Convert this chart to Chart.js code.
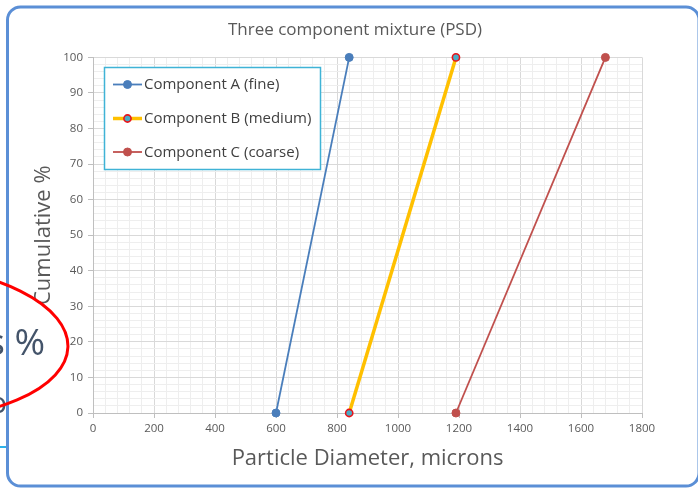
<!DOCTYPE html>
<html>
<head>
<meta charset="utf-8">
<script src="https://cdn.jsdelivr.net/npm/chart.js@4/dist/chart.umd.min.js"></script>
<style>
  html, body { margin: 0; padding: 0; background: #ffffff; }
  #wrap { width: 698px; height: 489px; }
</style>
</head>
<body>
<div id="wrap"><canvas id="psd" width="698" height="489"></canvas></div>
<script>
// Particle size distribution of the three components
const chartTitle = 'Three component mixture (PSD)';
const xAxisTitle = 'Particle Diameter, microns';
const yAxisTitle = 'Cumulative %';

const seriesNames = ['Component A (fine)', 'Component B (medium)', 'Component C (coarse)'];
const diameterA = [600, 840];
const cumulativeA = [0, 100];
const diameterB = [840, 1190];
const cumulativeB = [0, 100];
const diameterC = [1190, 1680];
const cumulativeC = [0, 100];

// Labelled (major) ticks; minor grid subdivides each major step into five
const xTickLabels = [0, 200, 400, 600, 800, 1000, 1200, 1400, 1600, 1800];
const yTickLabels = [0, 10, 20, 30, 40, 50, 60, 70, 80, 90, 100];
const minorDivisions = 5;

const FONT = '"Open Sans", "DejaVu Sans", sans-serif';
const GRID_MAJOR = '#d9d9d9';
const GRID_MINOR = '#eeeeee';
const AXIS_LINE = '#bfbfbf';
const TEXT = '#595959';

function gridValues(labels) {
  const out = [];
  for (let i = 0; i < labels.length - 1; i++) {
    const step = (labels[i + 1] - labels[i]) / minorDivisions;
    for (let k = 0; k < minorDivisions; k++) out.push(labels[i] + k * step);
  }
  out.push(labels[labels.length - 1]);
  return out;
}
const xGrid = gridValues(xTickLabels);
const yGrid = gridValues(yTickLabels);

function pairs(xs, ys) { return xs.map((x, i) => ({ x: x, y: ys[i] })); }

const datasets = [
  { label: seriesNames[0], data: pairs(diameterA, cumulativeA),
    borderColor: '#4a7ebb', backgroundColor: '#4a7ebb', borderWidth: 1.8,
    pointRadius: 4, pointBackgroundColor: '#4a7ebb', pointBorderColor: '#4a7ebb', pointBorderWidth: 1 },
  { label: seriesNames[1], data: pairs(diameterB, cumulativeB),
    borderColor: '#ffc000', backgroundColor: '#ffc000', borderWidth: 3.5,
    pointRadius: 3.6, pointBackgroundColor: '#4bacc6', pointBorderColor: '#e8141a', pointBorderWidth: 1.6 },
  { label: seriesNames[2], data: pairs(diameterC, cumulativeC),
    borderColor: '#c0504d', backgroundColor: '#c0504d', borderWidth: 1.8,
    pointRadius: 4, pointBackgroundColor: '#c0504d', pointBorderColor: '#c0504d', pointBorderWidth: 1 }
].map(d => Object.assign(d, { showLine: true, clip: false, tension: 0 }));

// White page background
const background = {
  id: 'background',
  beforeDraw(chart) {
    const c = chart.ctx;
    c.save();
    c.fillStyle = '#ffffff';
    c.fillRect(0, 0, chart.width, chart.height);
    c.restore();
  }
};

// Boxed legend inside the plot area
const boxedLegend = {
  id: 'boxedLegend',
  afterDatasetsDraw(chart) {
    const c = chart.ctx;
    const box = { x: 104.5, y: 67.5, w: 216, h: 102 };
    c.save();
    c.fillStyle = '#ffffff';
    c.fillRect(box.x, box.y, box.w, box.h);
    c.strokeStyle = '#3fb3d6';
    c.lineWidth = 1.5;
    c.strokeRect(box.x, box.y, box.w, box.h);
    const rows = [84.5, 118.5, 152];
    chart.data.datasets.forEach((ds, i) => {
      const y = rows[i];
      c.beginPath();
      c.moveTo(113, y);
      c.lineTo(142, y);
      c.strokeStyle = ds.borderColor;
      c.lineWidth = ds.borderWidth;
      c.stroke();
      c.beginPath();
      c.arc(127.5, y, ds.pointRadius, 0, Math.PI * 2);
      c.fillStyle = ds.pointBackgroundColor;
      c.fill();
      c.lineWidth = ds.pointBorderWidth;
      c.strokeStyle = ds.pointBorderColor;
      c.stroke();
      c.fillStyle = '#404040';
      c.font = '15px ' + FONT;
      c.textAlign = 'left';
      c.textBaseline = 'middle';
      c.fillText(ds.label, 144, y + 0.5);
    });
    c.restore();
  }
};

// Rounded blue frame and the slide content showing at its left edge
const frame = {
  id: 'frame',
  afterDraw(chart) {
    const c = chart.ctx;
    c.save();
    // slide text partly hidden behind the frame
    c.fillStyle = '#44546a';
    c.font = '37px ' + FONT;
    c.textAlign = 'right';
    c.textBaseline = 'alphabetic';
    c.fillText('s %', 45, 355);
    c.font = '30px ' + FONT;
    c.fillText('o', 7, 413);
    // cyan rule
    c.beginPath();
    c.moveTo(0, 447);
    c.lineTo(7, 447);
    c.strokeStyle = '#2cb2ea';
    c.lineWidth = 2;
    c.stroke();
    // frame
    c.beginPath();
    c.roundRect(7.5, 7, 691.5, 479, 13);
    c.strokeStyle = '#5b8fd6';
    c.lineWidth = 3;
    c.stroke();
    // red highlight ellipse
    c.beginPath();
    c.ellipse(-100, 342, 168, 77, 0.03, 0, Math.PI * 2);
    c.strokeStyle = '#ff0000';
    c.lineWidth = 3;
    c.stroke();
    c.restore();
  }
};

new Chart(document.getElementById('psd'), {
  type: 'scatter',
  data: { datasets: datasets },
  plugins: [background, boxedLegend, frame],
  options: {
    responsive: false,
    animation: false,
    devicePixelRatio: 1,
    layout: { padding: { top: 0, left: 12, right: 0, bottom: 0 } },
    plugins: {
      legend: { display: false },
      tooltip: { enabled: false },
      title: {
        display: true,
        text: chartTitle,
        color: TEXT,
        font: { family: FONT, size: 17, weight: 'normal' },
        padding: { top: 20, bottom: 17 }
      }
    },
    scales: {
      x: {
        type: 'linear',
        min: 0, max: 1800,
        afterBuildTicks(scale) { scale.ticks = xGrid.map(v => ({ value: v })); },
        afterFit(scale) { scale.height = 76; },
        ticks: {
          autoSkip: false, maxRotation: 0, padding: 4,
          color: TEXT, font: { family: FONT, size: 11.5 },
          callback: v => (xTickLabels.includes(v) ? String(v) : '')
        },
        grid: {
          color: ctx => (ctx.tick && xTickLabels.includes(ctx.tick.value) ? GRID_MAJOR : GRID_MINOR),
          tickColor: ctx => (ctx.tick && xTickLabels.includes(ctx.tick.value) ? AXIS_LINE : 'rgba(0,0,0,0)'),
          tickLength: 5,
          lineWidth: 1
        },
        border: { color: AXIS_LINE, width: 1 },
        title: {
          display: true, text: xAxisTitle, color: TEXT,
          font: { family: FONT, size: 22 },
          padding: { top: 0, bottom: 17 }
        }
      },
      y: {
        type: 'linear',
        min: 0, max: 100,
        afterBuildTicks(scale) { scale.ticks = yGrid.map(v => ({ value: v })); },
        afterFit(scale) { scale.width = 81; },
        ticks: {
          autoSkip: false, padding: 5,
          color: TEXT, font: { family: FONT, size: 11.5 },
          callback: v => (yTickLabels.includes(v) ? String(v) : '')
        },
        grid: {
          color: ctx => (ctx.tick && yTickLabels.includes(ctx.tick.value) ? GRID_MAJOR : GRID_MINOR),
          tickColor: ctx => (ctx.tick && yTickLabels.includes(ctx.tick.value) ? AXIS_LINE : 'rgba(0,0,0,0)'),
          tickLength: 5,
          lineWidth: 1
        },
        border: { color: AXIS_LINE, width: 1 },
        title: {
          display: true, text: yAxisTitle, color: TEXT,
          font: { family: FONT, size: 22 },
          padding: { top: 19, bottom: 0 }
        }
      },
      // empty right-hand margin so the title centres across the whole frame
      margin: {
        type: 'linear',
        position: 'right',
        display: true,
        afterFit(scale) { scale.width = 56; },
        ticks: { display: false },
        grid: { display: false, drawTicks: false },
        border: { display: false }
      }
    }
  }
});
</script>
</body>
</html>
